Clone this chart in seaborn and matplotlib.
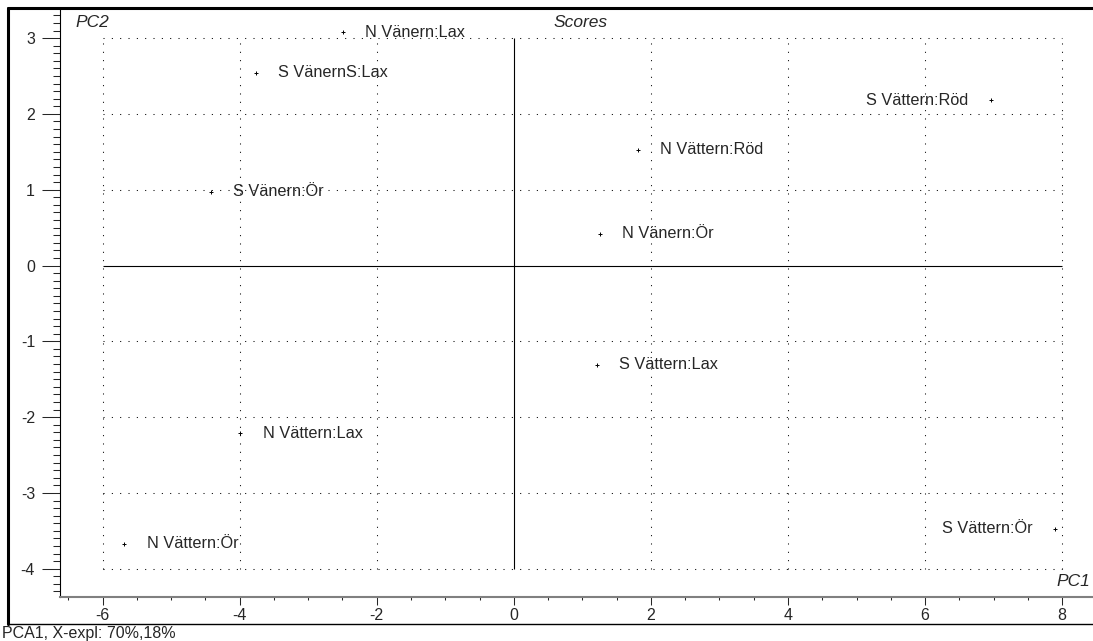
import pandas as pd
import numpy as np
import matplotlib
matplotlib.use("Agg")
import matplotlib.pyplot as plt
from matplotlib.lines import Line2D
from matplotlib.ticker import MultipleLocator
import seaborn as sns

# PCA scores (PC1, PC2)
samples = ["N Vänern:Lax", "S VänernS:Lax", "S Vänern:Ör", "N Vättern:Ör",
           "S Vättern:Ör", "S Vättern:Röd", "N Vättern:Röd", "N Vänern:Ör",
           "S Vättern:Lax", "N Vättern:Lax"]
pc1 = [-2.49, -3.76, -4.42, -5.68, 7.90, 6.96, 1.81, 1.26, 1.21, -3.99]
pc2 = [3.08, 2.54, 0.97, -3.67, -3.47, 2.18, 1.53, 0.42, -1.31, -2.21]

x_ticks = [-6, -4, -2, 0, 2, 4, 6, 8]
y_ticks = [-4, -3, -2, -1, 0, 1, 2, 3]

df = pd.DataFrame({"sample": samples, "PC1": pc1, "PC2": pc2})

sns.set_style("white")
plt.rcParams["font.family"] = ["Liberation Sans", "DejaVu Sans"]
plt.rcParams["font.size"] = 11.5
plt.rcParams["axes.unicode_minus"] = False

fig = plt.figure(figsize=(10.93, 6.41), dpi=100)
ax = fig.add_axes([0.0549, 0.0686, 0.9451, 0.9189])
ax.patch.set_visible(False)

# dotted grid only inside the tick range
dots = (0, (1, 7))
gx = [v for v in x_ticks if v != 0]
gy = [v for v in y_ticks if v != 0]
ax.vlines(gx, y_ticks[0], y_ticks[-1], colors="black", linewidth=0.75, linestyles=[dots])
ax.hlines(gy, x_ticks[0], x_ticks[-1], colors="black", linewidth=0.75, linestyles=[dots])
ax.hlines(0, x_ticks[0], x_ticks[-1], colors="black", linewidth=0.8)
ax.vlines(0, y_ticks[0], y_ticks[-1], colors="black", linewidth=0.8)

sns.scatterplot(data=df, x="PC1", y="PC2", marker="+", s=9, color="black",
                linewidth=0.7, ax=ax, zorder=3)

for _, r in df.iterrows():
    right = r["PC1"] > 6
    ax.annotate(r["sample"], (r["PC1"], r["PC2"]), xytext=(-16 if right else 16, 0),
                textcoords="offset points", ha="right" if right else "left",
                va="center", fontsize=11.7)

ax.set_xlim(-6.62, 8.45)
ax.set_ylim(-4.373, 3.397)
ax.set_xticks(x_ticks)
ax.set_yticks(y_ticks)
ax.xaxis.set_minor_locator(MultipleLocator(0.5))
ax.yaxis.set_minor_locator(MultipleLocator(0.1))
ax.tick_params(axis="y", which="both", left=True, right=False)
ax.tick_params(axis="x", which="both", bottom=True, top=False)
ax.tick_params(axis="y", which="major", direction="out", length=13, width=0.75, pad=5)
ax.tick_params(axis="y", which="minor", direction="out", length=5, width=0.75)
ax.tick_params(axis="x", which="major", direction="out", length=6, width=0.75, pad=2)
ax.tick_params(axis="x", which="minor", direction="out", length=2, width=0.75)
ax.set_xlabel("")
ax.set_ylabel("")

ax.spines["top"].set_visible(False)
ax.spines["right"].set_visible(False)
ax.spines["left"].set_color("black")
ax.spines["left"].set_linewidth(0.8)
ax.spines["bottom"].set_color("#808080")
ax.spines["bottom"].set_linewidth(1.5)

ax.text(0.0145, 0.976, "PC2", transform=ax.transAxes, style="italic", va="center", ha="left", fontsize=12.5)
ax.text(0.478, 0.976, "Scores", transform=ax.transAxes, style="italic", va="center", ha="left", fontsize=12.5)
ax.text(0.997, 0.026, "PC1", transform=ax.transAxes, style="italic", va="center", ha="right", fontsize=12.5)

# outer frame (top, left, bottom)
fig.add_artist(Line2D([0.0073, 1], [0.9875, 0.9875], color="black", linewidth=2.2))
fig.add_artist(Line2D([0.0073, 0.0073], [0.0265, 0.9875], color="black", linewidth=2.2))
fig.add_artist(Line2D([0.0073, 1], [0.0265, 0.0265], color="black", linewidth=1.0))
fig.text(0.002, 0.011, "PCA1, X-expl: 70%,18%", ha="left", va="center", fontsize=11.5)

fig.savefig("out.png", dpi=100)
